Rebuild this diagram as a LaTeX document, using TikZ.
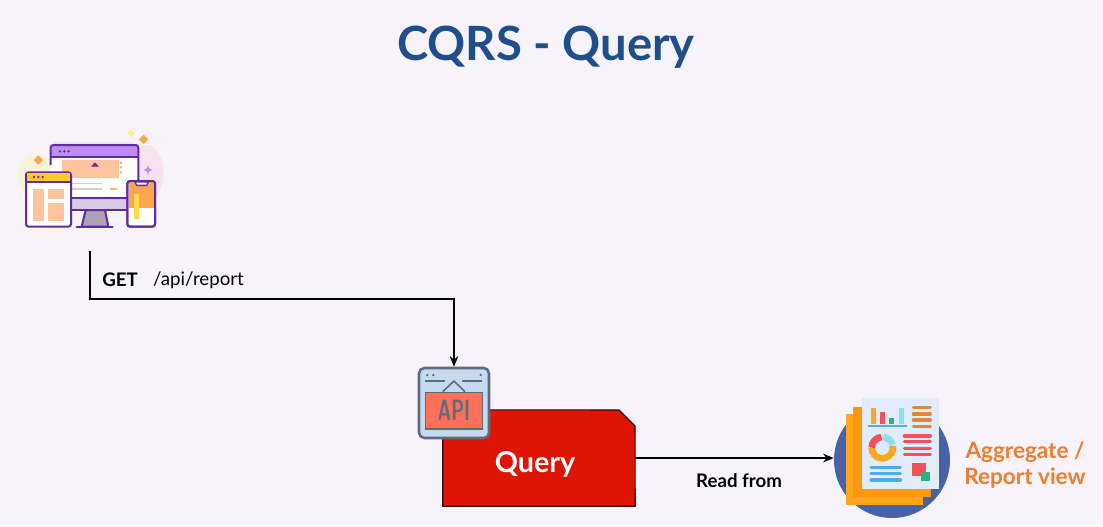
\documentclass[tikz,border=0pt]{standalone}
\usepackage{fontspec}
\setmainfont{Lato}
\usetikzlibrary{arrows.meta}
\definecolor{pagebg}{RGB}{246,243,250}
\definecolor{titleblue}{RGB}{31,78,140}
\definecolor{queryred}{RGB}{224,20,4}
\definecolor{aggorange}{RGB}{237,125,49}
\definecolor{devpurple}{RGB}{98,44,160}
\definecolor{devhead}{RGB}{190,140,245}
\definecolor{devpeach}{RGB}{255,196,155}
\definecolor{devorange}{RGB}{255,166,77}
\definecolor{apislate}{RGB}{92,107,125}
\definecolor{repback}{RGB}{255,165,30}
\definecolor{repmid}{RGB}{255,152,16}
\definecolor{repfront}{RGB}{224,236,251}
\definecolor{repred}{RGB}{244,80,90}
\definecolor{repgreen}{RGB}{47,179,124}
\definecolor{repcyan}{RGB}{142,224,232}
\definecolor{repblue}{RGB}{74,172,232}
\definecolor{repbrown}{RGB}{217,138,60}
\tikzset{
  conn/.style={line width=1.1pt,draw=black},
  tip/.style={-{Stealth[length=8pt,width=6.5pt]}},
  lbl/.style={inner sep=0.75pt,font=\fontsize{14}{16}\selectfont},
  dev/.style={draw=devpurple,line width=1.5pt,rounded corners=2pt},
  bar/.style={line width=2.4pt,line cap=round},
  apiline/.style={draw=apislate,line width=1.2pt},
}
\begin{document}
\begin{tikzpicture}[x=0.75pt,y=0.75pt,yscale=-1,xscale=1]

\fill [pagebg] (0,0) rectangle (1103,526);
\useasboundingbox (0,0) rectangle (1103,526);

\node (title) at (546,47) [inner sep=0pt,text=titleblue,font=\fontsize{35.4}{40}\selectfont\bfseries] {CQRS - Query};

\begin{scope}[shift={(0,110)},x=0.25pt,y=0.25pt]
\fill [yellow!14!pagebg] (105,195) ellipse [x radius=50,y radius=65];
\fill [magenta!7!pagebg] (440,190) ellipse [x radius=50,y radius=85];
\fill [devpurple!8!pagebg] (160,95) rectangle (400,110);
\fill [white,rounded corners=2pt] (152,105) rectangle (415,300);
\fill [devpeach] (187,150) rectangle (357,205);
\fill [devpurple] (273,170) -- (285,157) -- (297,170) -- cycle;
\foreach \yy in {158,172,187} \fill [aggorange!70] (363,\yy) circle [radius=1pt];
\draw [gray!35,line width=1pt] (215,220) -- (305,220) (215,237) -- (305,237);
\draw [devpeach!80!orange,line width=1pt] (330,237) -- (350,237);
\fill [devhead,rounded corners=2pt] (152,105) rectangle (415,140);
\draw [dev] (152,165) -- (152,105) -- (415,105) -- (415,210);
\draw [devpurple,line width=1.5pt] (152,140) -- (415,140);
\foreach \xx in {180,193,206} \fill [devpurple] (\xx,124) circle [radius=1pt];
\fill [devpurple!25] (213,265) rectangle (385,300);
\draw [devpurple,line width=1.5pt] (213,265) -- (385,265) (213,300) -- (385,300);
\draw [devpurple,line width=1.5pt,fill=devpurple!35!gray!60] (257,300) -- (315,300) -- (325,350) -- (245,350) -- cycle;
\draw [devpurple,line width=1.5pt,line cap=round] (230,350) -- (338,350);
\draw [dev,fill=white] (78,187) rectangle (213,350);
\fill [yellow!45!devorange] (81,190) rectangle (210,213);
\draw [devpurple,line width=1.5pt] (78,215) -- (213,215);
\foreach \xx in {102,115,128} \fill [devpurple] (\xx,201) circle [radius=1pt];
\fill [devpeach] (100,237) rectangle (132,332);
\fill [devpeach] (143,237) rectangle (191,268);
\fill [devpeach] (143,280) rectangle (191,332);
\draw [dev,fill=white] (382,213) rectangle (465,350);
\fill [devorange] (386,217) rectangle (461,295);
\fill [yellow!50!devpeach] (402,252) rectangle (417,328);
\draw [dev] (382,213) rectangle (465,350);
\draw [devpurple,line width=1pt,fill=white] (405,216) -- (445,216) -- (440,226) -- (410,226) -- cycle;
\fill [yellow!45!pagebg] (393,57) -- (405,69) -- (393,81) -- (381,69) -- cycle;
\fill [devorange] (431,74) -- (445,88) -- (431,102) -- (417,88) -- cycle;
\fill [devorange] (115,136) -- (129,150) -- (115,164) -- (101,150) -- cycle;
\fill [devhead] (444,165) .. controls (447,176) .. (458,180) .. controls (447,184) .. (444,195) .. controls (441,184) .. (430,180) .. controls (441,176) .. (444,165) -- cycle;
\end{scope}

\node (query) at (539,458) [minimum width=144pt,minimum height=72pt,inner sep=0pt] {};
\draw [fill=queryred,draw=black!75!queryred,line width=0.8pt] (query.south west) -- (query.north west) -- (619,410) -- (635,426) -- (query.south east) -- cycle;
\node (querylabel) at (535,464) [inner sep=0pt,text=white,font=\fontsize{21.5}{24}\selectfont\bfseries] {Query};

\node (apiicon) at (454,403) [minimum width=52.5pt,minimum height=52.5pt,inner sep=0pt,draw=apislate,line width=1.9pt,rounded corners=4pt,fill={rgb,255:red,197;green,217;blue,239}] {};
\begin{scope}[shift={(400,350)},x=0.25pt,y=0.25pt]
\draw [apiline] (75,93) -- (135,93) (187,93) -- (245,93);
\draw [apiline,line join=round] (128,125) -- (162,93) -- (195,125);
\foreach \xx in {82,100,242} \fill [apislate] (\xx,75) circle [radius=1pt];
\draw [apiline,fill={rgb,255:red,255;green,111;blue,89}] (77,128) rectangle (248,237);
\node (apitext) at (162,182) [inner sep=0pt,text=apislate,font=\fontsize{22}{24}\selectfont\sffamily] {\scalebox{.62}[1]{\textbf{API}}};
\end{scope}

\node (reportview) at (892,460) [circle,minimum size=87pt,inner sep=0pt,fill={rgb,255:red,72;green,98;blue,165}] {};
\begin{scope}[shift={(820,385)},x=0.25pt,y=0.25pt]
\fill [repback] (77,88) rectangle (310,360);
\fill [repmid] (100,65) rectangle (333,337);
\fill [repfront] (125,38) rectangle (357,312);
\fill [repback] (153,68) rectangle (168,118);
\fill [repred] (180,82) rectangle (196,118);
\fill [repgreen] (208,98) rectangle (223,118);
\fill [repcyan] (236,68) rectangle (251,118);
\draw [repblue,line width=2.2pt] (145,123) -- (260,123);
\foreach \yy in {68,87,105,124} \draw [bar,repbrown] (280,\yy) -- (331,\yy);
\foreach \yy in {153,170,190,209} \draw [bar,repred] (253,\yy) -- (331,\yy);
\foreach \yy in {247,266,285} \draw [bar,repblue] (153,\yy) -- (241,\yy);
\draw [line width=5pt,repback] (187,188) ++(-10:8pt) arc [start angle=-10,end angle=180,radius=8pt];
\draw [line width=5pt,repred] (187,188) ++(-180:8pt) arc [start angle=-180,end angle=-95,radius=8pt];
\draw [line width=5pt,repcyan] (187,188) ++(-85:8pt) arc [start angle=-85,end angle=-15,radius=8pt];
\fill [repred] (277,235) rectangle (317,273);
\fill [repgreen] (303,260) rectangle (330,287);
\end{scope}

\coordinate (clientout) at (90,251);
\coordinate (getbend) at (454,299);
\draw [conn,tip] (clientout) |- (getbend) -- (apiicon.north);
\draw [conn,tip] (query.east) -- (query.east -| reportview.west);

\node (getlabel) at (120,280) [lbl] {\textbf{GET}};
\node (pathlabel) at (198.5,280) [lbl] {/api/report};
\node (readlabel) at (739,481) [lbl] {\textbf{Read from}};
\node (aggregate) at (1025,452) [inner sep=0pt,text=aggorange,font=\fontsize{16.9}{18}\selectfont\bfseries] {Aggregate /};
\node (reportlabel) at (1025,478) [inner sep=0pt,text=aggorange,font=\fontsize{16.9}{18}\selectfont\bfseries] {Report view};

\end{tikzpicture}
\end{document}
